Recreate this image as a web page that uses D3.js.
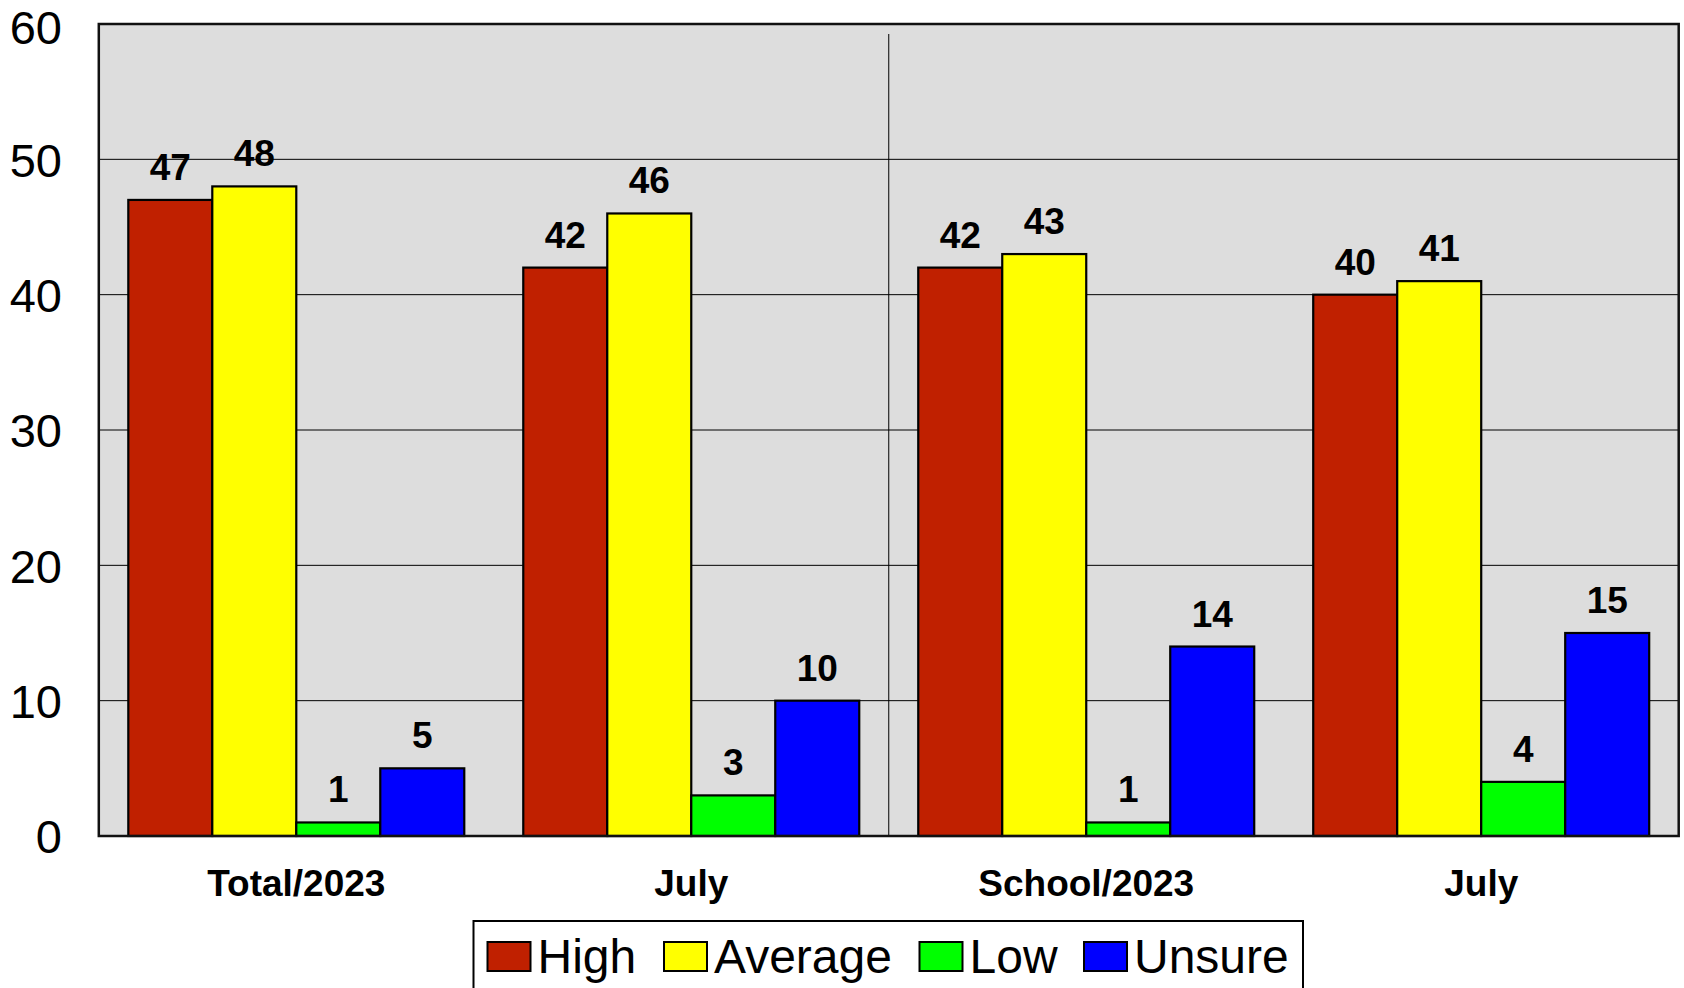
<!DOCTYPE html>
<html>
<head>
<meta charset="utf-8">
<script src="https://cdn.jsdelivr.net/npm/d3@7"></script>
<style>
  html, body { margin: 0; padding: 0; background: #ffffff; }
  svg { display: block; font-family: "Liberation Sans", Arial, sans-serif; }
</style>
</head>
<body>
<svg id="chart" width="1684" height="988"></svg>
<script>
const categories = ["Total/2023", "July", "School/2023", "July "];
const seriesNames = ["High", "Average", "Low", "Unsure"];
const seriesColors = ["#C02000", "#FFFF00", "#00FF00", "#0000FF"];
const highValues = [47, 42, 42, 40];
const averageValues = [48, 46, 43, 41];
const lowValues = [1, 3, 1, 4];
const unsureValues = [5, 10, 14, 15];
const yTicks = [0, 10, 20, 30, 40, 50, 60];

const seriesValues = [highValues, averageValues, lowValues, unsureValues];

const svg = d3.select("#chart");
const plot = { left: 98.8, right: 1678.7, top: 24, bottom: 836 };

const x0 = d3.scaleBand().domain(categories).range([plot.left, plot.right]).padding(0);
const groupPad = 29.5;
const x1 = d3.scaleBand().domain(seriesNames).range([groupPad, x0.bandwidth() - groupPad]).padding(0);
const y = d3.scaleLinear().domain([0, 60]).range([plot.bottom, plot.top]);

// plot background
svg.append("rect")
  .attr("x", plot.left).attr("y", plot.top)
  .attr("width", plot.right - plot.left).attr("height", plot.bottom - plot.top)
  .attr("fill", "#DDDDDD");

// gridlines
svg.append("g")
  .selectAll("line")
  .data(yTicks.filter(t => t > 0 && t < 60))
  .join("line")
  .attr("x1", plot.left).attr("x2", plot.right)
  .attr("y1", d => y(d)).attr("y2", d => y(d))
  .attr("stroke", "#000").attr("stroke-width", 1);

// divider between groups
svg.append("line")
  .attr("x1", x0(categories[2])).attr("x2", x0(categories[2]))
  .attr("y1", plot.top + 10).attr("y2", plot.bottom)
  .attr("stroke", "#000").attr("stroke-width", 1);

// bars
const data = [];
categories.forEach((c, ci) => {
  seriesNames.forEach((s, si) => {
    data.push({ cat: c, series: s, value: seriesValues[si][ci], color: seriesColors[si] });
  });
});

svg.append("g")
  .selectAll("rect")
  .data(data)
  .join("rect")
  .attr("x", d => x0(d.cat) + x1(d.series))
  .attr("y", d => y(d.value))
  .attr("width", x1.bandwidth())
  .attr("height", d => y(0) - y(d.value))
  .attr("fill", d => d.color)
  .attr("stroke", "#000")
  .attr("stroke-width", 2.2);

// value labels
svg.append("g")
  .selectAll("text")
  .data(data)
  .join("text")
  .attr("x", d => x0(d.cat) + x1(d.series) + x1.bandwidth() / 2)
  .attr("y", d => y(d.value) - 20)
  .attr("text-anchor", "middle")
  .attr("font-size", 37)
  .attr("font-weight", "bold")
  .attr("fill", "#000")
  .text(d => d.value);

// plot border
svg.append("rect")
  .attr("x", plot.left).attr("y", plot.top)
  .attr("width", plot.right - plot.left).attr("height", plot.bottom - plot.top)
  .attr("fill", "none").attr("stroke", "#111").attr("stroke-width", 2.5);

// y axis labels
const yAxis = d3.axisLeft(y).tickValues(yTicks).tickSize(0).tickPadding(0);
const yg = svg.append("g").attr("transform", `translate(62,0)`).call(yAxis);
yg.select(".domain").remove();
yg.selectAll("text")
  .attr("font-size", 47)
  .attr("font-family", "'Liberation Sans', Arial, sans-serif")
  .attr("fill", "#000")
  .attr("dy", d => d === 60 ? "0.41em" : "0.36em");

// x axis labels
const xAxis = d3.axisBottom(x0).tickSize(0).tickPadding(0).tickFormat(d => d.trim());
const xg = svg.append("g").attr("transform", `translate(0,${plot.bottom})`).call(xAxis);
xg.select(".domain").remove();
xg.selectAll("text")
  .attr("font-size", 37)
  .attr("font-weight", "bold")
  .attr("font-family", "'Liberation Sans', Arial, sans-serif")
  .attr("fill", "#000")
  .attr("y", 60)
  .attr("dy", 0);

// legend
const legend = svg.append("g");
legend.append("rect")
  .attr("x", 473.5).attr("y", 921)
  .attr("width", 1303 - 473.5).attr("height", 90)
  .attr("fill", "#fff").attr("stroke", "#000").attr("stroke-width", 2);

const legendX = [487.5, 664, 919.5, 1084];
const items = legend.selectAll("g.item")
  .data(seriesNames)
  .join("g")
  .attr("class", "item")
  .attr("transform", (d, i) => `translate(${legendX[i]},0)`);
items.append("rect")
  .attr("x", 0).attr("y", 942)
  .attr("width", 43).attr("height", 29)
  .attr("fill", (d, i) => seriesColors[i])
  .attr("stroke", "#000").attr("stroke-width", 2);
items.append("text")
  .attr("x", 50).attr("y", 973)
  .attr("font-size", 48)
  .attr("fill", "#000")
  .text(d => d);
</script>
</body>
</html>
